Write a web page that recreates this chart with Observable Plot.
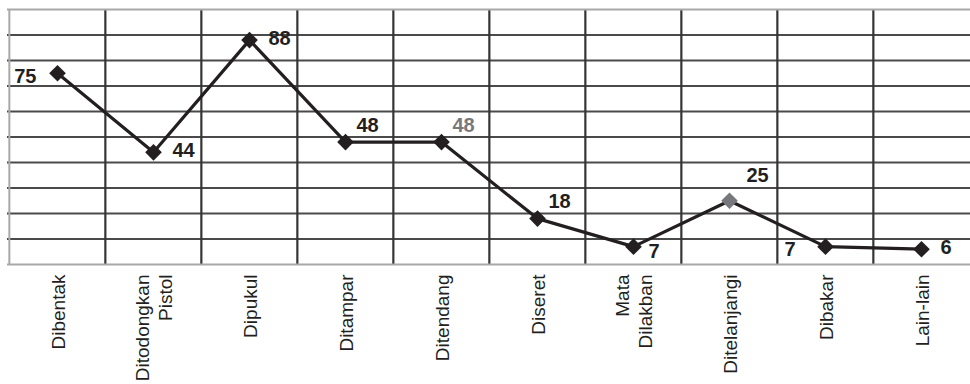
<!DOCTYPE html>
<html>
<head>
<meta charset="utf-8">
<script src="https://cdn.jsdelivr.net/npm/d3@7"></script>
<script src="https://cdn.jsdelivr.net/npm/@observablehq/plot@0.6"></script>
<style>
  html, body { margin: 0; padding: 0; background: #fff; }
</style>
</head>
<body>
<div id="chart"></div>
<script>
// Forms of violence and number of reports
const categories = [
  "Dibentak", "Ditodongkan\nPistol", "Dipukul", "Ditampar", "Ditendang",
  "Diseret", "Mata\nDilakban", "Ditelanjangi", "Dibakar", "Lain-lain"
];
const values = [75, 44, 88, 48, 48, 18, 7, 25, 7, 6];
const gridValues = [10, 20, 30, 40, 50, 60, 70, 80, 90];
const yDomain = [0, 100];

// where each value label sits around its marker
const labelPlacement = ["w", "e", "e", "ne", "ne", "ne", "se", "nne", "sw", "e"];
// points and labels drawn in grey instead of black
const greyMarker = ["Ditelanjangi"];
const greyLabel = ["Ditendang"];

const W = 970, H = 384;
const margin = {left: 7, right: 0, top: 9, bottom: 120};
const bandStep = (W - margin.left - margin.right) / categories.length;

const data = categories.map((c, i) => ({category: c, value: values[i], place: labelPlacement[i]}));

const ink = "#231f20";
const grey = "#77787b";
const sans = "'Liberation Sans', Arial, Helvetica, sans-serif";
const offsets = {
  w:   {anchor: "end",   dx: -21, dy: 3},
  e:   {anchor: "start", dx: 19,  dy: -2},
  ne:  {anchor: "start", dx: 11,  dy: -17},
  se:  {anchor: "start", dx: 15,  dy: 5},
  nne: {anchor: "start", dx: 17,  dy: -25},
  sw:  {anchor: "end",   dx: -30, dy: 3}
};

const labelMarks = Object.entries(offsets).map(([key, o]) =>
  Plot.text(data.filter(d => d.place === key), {
    x: "category", y: "value", text: d => String(d.value),
    textAnchor: o.anchor, dx: o.dx, dy: o.dy,
    fontSize: 20, fontWeight: "bold", fontFamily: sans,
    fill: d => greyLabel.includes(d.category) ? grey : ink
  })
);

const chart = Plot.plot({
  width: W,
  height: H,
  marginLeft: margin.left,
  marginRight: margin.right,
  marginTop: margin.top,
  marginBottom: margin.bottom,
  style: {background: "#fff", overflow: "visible"},
  x: {domain: categories, type: "band", padding: 0, axis: null},
  y: {domain: yDomain, axis: null},
  marks: [
    // horizontal grid
    Plot.ruleY(gridValues, {stroke: "#4a4a4a", strokeWidth: 1.8}),
    // vertical dividers between categories
    Plot.ruleX(categories.slice(1), {y1: yDomain[0], y2: yDomain[1], dx: -bandStep / 2, stroke: "#353535", strokeWidth: 2.2}),
    // grey frame: top, bottom, left
    Plot.ruleY(yDomain, {stroke: "#a8a8a8", strokeWidth: 2}),
    Plot.ruleX(categories.slice(0, 1), {y1: yDomain[0], y2: yDomain[1], dx: -bandStep / 2, stroke: "#a8a8a8", strokeWidth: 2}),
    // the series
    Plot.line(data, {x: "category", y: "value", stroke: ink, strokeWidth: 3.2}),
    Plot.dot(data, {
      x: "category", y: "value", symbol: "diamond2", r: 7.5, stroke: "none",
      fill: d => greyMarker.includes(d.category) ? grey : ink
    }),
    ...labelMarks,
    // category labels
    Plot.axisX({
      anchor: "bottom",
      tickSize: 0,
      tickPadding: 10,
      tickRotate: -90,
      textAnchor: "end",
      lineAnchor: "middle",
      lineHeight: 1.2,
      fontSize: 19,
      fontFamily: sans,
      fill: ink,
      label: null
    })
  ]
});

document.getElementById("chart").appendChild(chart);
</script>
</body>
</html>
